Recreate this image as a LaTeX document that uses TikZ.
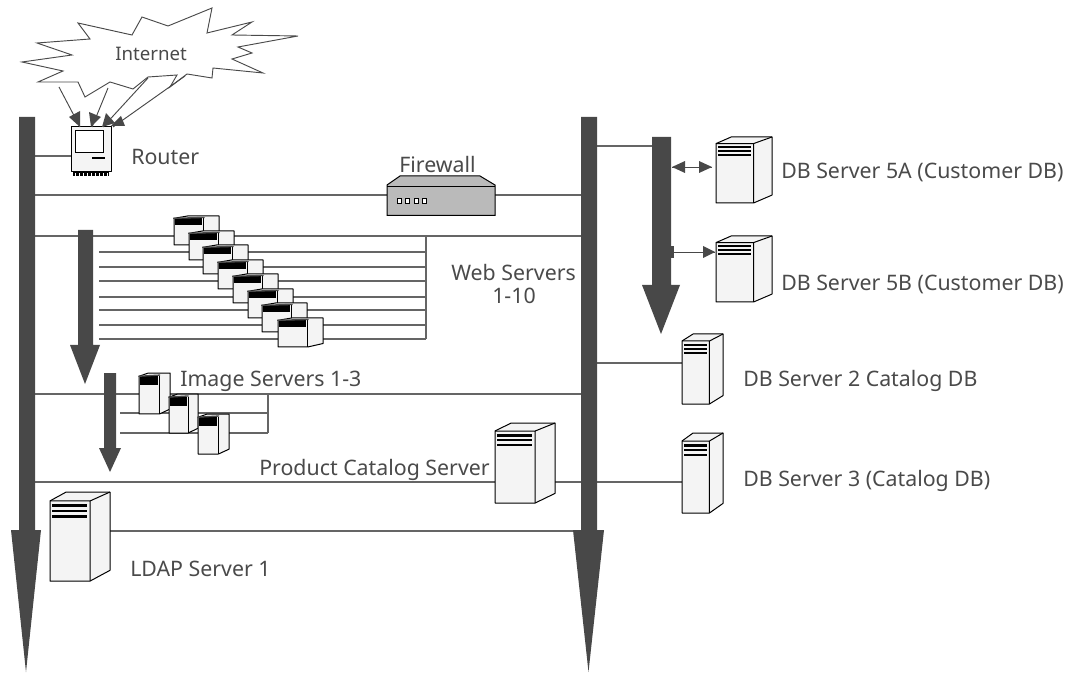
\documentclass[tikz,border=0pt]{standalone}
\usepackage{fontspec}
\setmainfont{Noto Sans}
\definecolor{bar}{HTML}{484848}
\definecolor{ink}{HTML}{4A4A4A}
\definecolor{face}{HTML}{F4F4F4}
\tikzset{
  wire/.style={draw=ink!85!white,line width=0.8pt},
  bar shape/.style={fill=bar,draw=none},
  lab/.style={anchor=west,inner sep=0pt,text=ink,font=\fontsize{16}{18}\selectfont},
  outline/.style={draw=black,line width=0.75pt,fill=face,line join=round},
  tipfill/.style={fill=bar,draw=none},
  thin arrow/.style={draw=bar,line width=0.7pt}
}
% name, x, y, w, h : tall tower with three stripes
\newcommand{\towerbox}[5]{%
  \begin{scope}[shift={(#2,#3)},xscale=#4/100,yscale=#5/100]
    \draw[outline] (0,10)--(27,0)--(100,0)--(100,88)--(67,100)--(0,100)--cycle;
    \draw[draw=black,line width=0.75pt] (0,10)--(67,10)--(100,0) (67,10)--(67,100);
    \fill[black] (4,14) rectangle (62,17);
    \fill[black] (4,20) rectangle (62,23);
    \fill[black] (4,26) rectangle (62,29);
    \coordinate (#1w) at (0,50); \coordinate (#1e) at (100,50);
  \end{scope}}
% name, x, y, w, h : small box with a dark band
\newcommand{\smallbox}[5]{%
  \begin{scope}[shift={(#2,#3)},xscale=#4/100,yscale=#5/100]
    \draw[outline] (0,8)--(30,0)--(100,0)--(100,88)--(66,100)--(0,100)--cycle;
    \draw[draw=black,line width=0.75pt] (66,8)--(66,100);
    \fill[black] (3,8) rectangle (62,30);
    \draw[draw=ink,line width=1pt] (-2,8)--(68,5);
    \coordinate (#1w) at (0,50); \coordinate (#1e) at (100,50);
  \end{scope}}
\newcommand{\wire}[4]{%
  \coordinate (#1a) at (#2,#4); \coordinate (#1b) at (#3,#4);
  \draw[wire] (#1a)--(#1b);}
% name, x1, x2, y1 (shaft top), y2 (head top), hx1, hx2, ytip
\newcommand{\barrow}[8]{%
  \fill[bar shape] (#2,#4)--(#3,#4)--(#3,#5)--(#7,#5)--({(#6+#7)/2},#8)--(#6,#5)--(#2,#5)--cycle;
  \coordinate (#1top) at ({(#2+#3)/2},#4);}
\begin{document}
\begin{tikzpicture}[x=0.75pt,y=-0.75pt]
\useasboundingbox (0,0) rectangle (1070,673);
\fill[white] (0,0) rectangle (1070,673);

% wires first
\wire{wr}{35}{73}{156}
\wire{wf1}{35}{387}{195}
\wire{wf2}{495}{581}{195}
\wire{wt}{35}{581}{236}
\foreach \n/\yy in {1/252,2/267,3/281,4/297,5/310,6/325,7/339}{\wire{web\n}{99}{426}{\yy}}
\coordinate (webT) at (426,236); \coordinate (webB) at (426,339);
\draw[wire] (webT)--(webB);
\wire{im0}{35}{581}{394}
\wire{im1}{120}{268}{413}
\wire{im2}{120}{268}{433}
\coordinate (imT) at (268,394); \coordinate (imB) at (268,433);
\draw[wire] (imT)--(imB);
\wire{pc1}{35}{495}{482}
\wire{pc2}{555}{581}{482}
\wire{db3}{597}{682}{482}
\wire{db2}{597}{682}{363}
\wire{ld}{110}{581}{531}
\wire{dbt}{597}{652}{146}

% main bars and arrows
\barrow{busL}{19}{35}{117}{530}{11}{41}{672}
\barrow{busR}{581}{597}{117}{530}{573}{604}{672}
\barrow{busI}{652}{671}{137}{285}{642}{680}{334}
\barrow{arrW}{78}{93}{230}{345}{70}{100}{384}
\barrow{arrI}{104}{116}{373}{448}{99}{121}{472}

% cloud
\draw[draw=ink,line width=0.7pt,fill=white,line join=miter]
 (78,23)--(132,35)--(142,17)--(168,26)--(212,8)--(207,33)--(252,22)--(232,35)--(298,36)--(238,47)--(252,53)--(232,59)--(263,73)--(213,68)--(212,78)--(187,74)--(170,87)--(177,75)--(148,77)--(133,89)--(110,82)--(85,97)--(78,82)--(38,82)--(63,71)--(22,62)--(72,55)--(37,43)--(90,39)--cycle;
\node[lab,font=\fontsize{14}{16}\selectfont] (inet) at (115,54) {Internet};

% router
\draw[outline] (71,127) rectangle (111,172);
\draw[draw=black,line width=0.75pt,fill=white] (75,131) rectangle (103,153);
\fill[black] (92,157) rectangle (105,159.5);
\fill[black] (73,172) rectangle (109,176);
\foreach \k in {0,...,8}{\fill[white] ({75+\k*4},173) rectangle ({76+\k*4},176);}

% internet to router arrows
\coordinate (c1) at (59,87); \coordinate (r1) at (80,127);
\coordinate (c2) at (108,88); \coordinate (r2) at (92,127);
\coordinate (c3) at (148,78); \coordinate (r3) at (103,127);
\coordinate (c4) at (185,76); \coordinate (r4) at (113,127);
\draw[thin arrow] (c1)--(r1); \draw[thin arrow] (c2)--(r2); \draw[thin arrow] (c3)--(r3); \draw[thin arrow] (c4)--(r4);
\fill[tipfill] (80,127)--(69,117)--(80,111)--cycle;
\fill[tipfill] (91,127)--(89,112)--(101,117)--cycle;
\fill[tipfill] (102,127)--(106,113)--(115,123)--cycle;
\fill[tipfill] (111,126)--(121,116)--(125,126)--cycle;

% firewall
\draw[draw=black,line width=0.75pt,fill=black!27] (387,185)--(400,176)--(480,176)--(495,185)--(495,215.5)--(387,215.5)--cycle;
\draw[draw=black,line width=0.7pt] (387,186)--(495,186);
\foreach \k in {0,1,2,3}{\draw[black,line width=0.6pt,fill=white] ({397+\k*8.5},198) rectangle ({401+\k*8.5},203);}

% web servers
\smallbox{w1}{174}{216}{45}{29}
\smallbox{w2}{189}{231}{45}{29}
\smallbox{w3}{203}{245}{45}{29}
\smallbox{w4}{218}{260}{45}{29}
\smallbox{w5}{233}{274}{45}{29}
\smallbox{w6}{248}{289}{45}{29}
\smallbox{w7}{262}{303}{45}{29}
\smallbox{w8}{278}{318}{45}{29}

% image servers
\smallbox{i1}{139}{373}{31}{41}
\smallbox{i2}{169}{394}{29}{39}
\smallbox{i3}{198}{414}{31}{40}

% towers
\towerbox{ldap}{50}{492}{60}{89}
\towerbox{pc}{495}{423}{60}{80}
\towerbox{d5a}{716}{137}{56}{66}
\towerbox{d5b}{716}{236}{56}{66}
\towerbox{d2}{682}{334}{41}{70}
\towerbox{d3}{682}{433}{41}{80}

% arrows beside the inner bar
\coordinate (a1) at (672,167); \coordinate (a2) at (712,167);
\coordinate (b1) at (672,252); \coordinate (b2) at (715,252);
\draw[thin arrow] (a1)--(a2);
\draw[thin arrow] (b1)--(b2);
\fill[tipfill] (672,167)--(685,161)--(685,173)--cycle;
\fill[tipfill] (712,167)--(699,161)--(699,173)--cycle;
\fill[tipfill] (715,252)--(703,246)--(703,258)--cycle;
\fill[tipfill] (671,246) rectangle (674,258);

% labels
\node[lab] (lrouter) at (131,157) {Router};
\node[lab] (lfw) at (399,165) {Firewall};
\node[lab] (lweb1) at (451,273) {Web Servers};
\node[lab] (lweb2) at (492,296) {1-10};
\node[lab] (limg) at (180,381) {Image Servers 1-3};
\node[lab] (lpc) at (259,470) {Product Catalog Server};
\node[lab] (lldap) at (130,569) {LDAP Server 1};
\node[lab] (l5a) at (781,172) {DB Server 5A (Customer DB)};
\node[lab] (l5b) at (781,284) {DB Server 5B (Customer DB)};
\node[lab] (l2) at (743,381) {DB Server 2 Catalog DB};
\node[lab] (l3) at (743,481) {DB Server 3 (Catalog DB)};
\end{tikzpicture}
\end{document}
